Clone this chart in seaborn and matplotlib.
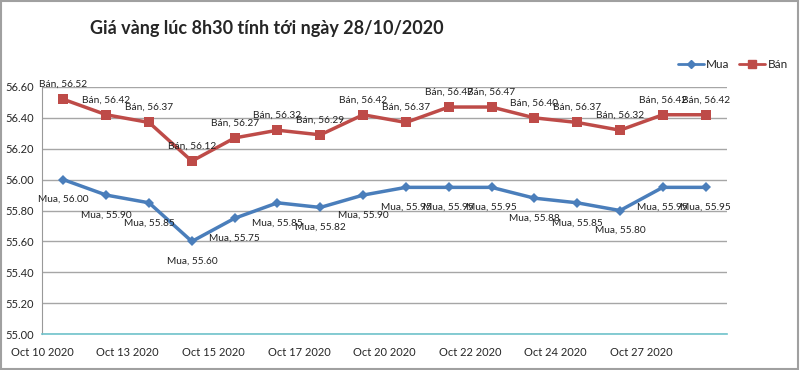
import pandas as pd
import numpy as np
import matplotlib
matplotlib.use("Agg")
import matplotlib.pyplot as plt
import matplotlib.transforms as mtransforms
from matplotlib.lines import Line2D
import seaborn as sns

dates = ["Oct 10 2020", "Oct 12 2020", "Oct 13 2020", "Oct 14 2020", "Oct 15 2020",
         "Oct 16 2020", "Oct 17 2020", "Oct 19 2020", "Oct 20 2020", "Oct 21 2020",
         "Oct 22 2020", "Oct 23 2020", "Oct 24 2020", "Oct 26 2020", "Oct 27 2020",
         "Oct 28 2020"]
mua = [56.00, 55.90, 55.85, 55.60, 55.75, 55.85, 55.82, 55.90,
       55.95, 55.95, 55.95, 55.88, 55.85, 55.80, 55.95, 55.95]
ban = [56.52, 56.42, 56.37, 56.12, 56.27, 56.32, 56.29, 56.42,
       56.37, 56.47, 56.47, 56.40, 56.37, 56.32, 56.42, 56.42]
series_names = ["Mua", "Bán"]
y_ticks = [55.00, 55.20, 55.40, 55.60, 55.80, 56.00, 56.20, 56.40, 56.60]

pos = np.arange(len(dates))
df = pd.DataFrame({
    "pos": np.concatenate([pos, pos]),
    "value": mua + ban,
    "series": [series_names[0]] * len(mua) + [series_names[1]] * len(ban),
})

sns.set_style("white")
plt.rcParams["font.family"] = ["Lato", "DejaVu Sans"]

colors = {"Mua": "#4A7EBB", "Bán": "#BE4B48"}

fig = plt.figure(figsize=(8, 3.7), dpi=100)
ax = fig.add_axes([0.0525, 0.097, 0.8563, 0.668])

sns.lineplot(data=df, x="pos", y="value", hue="series", style="series",
             markers={"Mua": "D", "Bán": "s"}, dashes=False, palette=colors,
             linewidth=2.5, markersize=7, markeredgewidth=0, ax=ax, legend=False)
# diamond smaller than square
for line in ax.lines:
    if line.get_marker() == "D":
        line.set_markersize(5.5)
    else:
        line.set_markersize(7.5)

for x, v in zip(pos, ban):
    ax.annotate(f"Bán, {v:.2f}", (x, v), xytext=(0, 15), textcoords="offset pixels",
                ha="center", va="center", fontsize=7.3, color="#222222")
for x, v in zip(pos, mua):
    ax.annotate(f"Mua, {v:.2f}", (x, v), xytext=(0, -20), textcoords="offset pixels",
                ha="center", va="center", fontsize=7.3, color="#222222")

ax.set_xlim(-0.5, len(dates) - 0.5)
ax.set_ylim(55.0, 56.6)
ax.set_yticks(y_ticks)
ax.set_yticklabels([f"{t:.2f}" for t in y_ticks], fontsize=8)
ax.set_xticks(np.arange(len(dates) + 1) - 0.5, minor=True)
ax.set_xticks(pos[::2] - 0.5)
ax.set_xticklabels(dates[::2], fontsize=8)
shift = mtransforms.ScaledTranslation(-5 / 100, 0, fig.dpi_scale_trans)
for lbl in ax.get_xticklabels():
    lbl.set_transform(lbl.get_transform() + shift)
ax.tick_params(axis="x", which="both", length=3, color="#999999", pad=6)
ax.tick_params(axis="y", length=4, color="#999999", pad=2)
ax.set_xlabel("")
ax.set_ylabel("")
ax.grid(axis="y", color="#A6A6A6", linewidth=1)
ax.set_axisbelow(True)
for s in ["top", "right"]:
    ax.spines[s].set_visible(False)
ax.spines["left"].set_color("#999999")
ax.spines["bottom"].set_color("#6FC3CC")
ax.spines["bottom"].set_linewidth(1.2)

fig.text(0.112, 0.924, "Giá vàng lúc 8h30 tính tới ngày 28/10/2020",
         fontsize=13, fontweight="bold", va="center", ha="left")

handles = [Line2D([], [], color=colors["Mua"], marker="D", markersize=4, linewidth=2),
           Line2D([], [], color=colors["Bán"], marker="s", markersize=6, linewidth=2)]
fig.legend(handles, series_names, loc="center right", bbox_to_anchor=(0.998, 0.825),
           ncol=2, frameon=False, fontsize=8.5, handlelength=2.2, handletextpad=0.2,
           columnspacing=0.8)

fig.patches.append(plt.Rectangle((0.001, 0.002), 0.997, 0.995, transform=fig.transFigure,
                                 fill=False, edgecolor="#A0A0A0", linewidth=1.5))

fig.savefig("out.png", dpi=100)
